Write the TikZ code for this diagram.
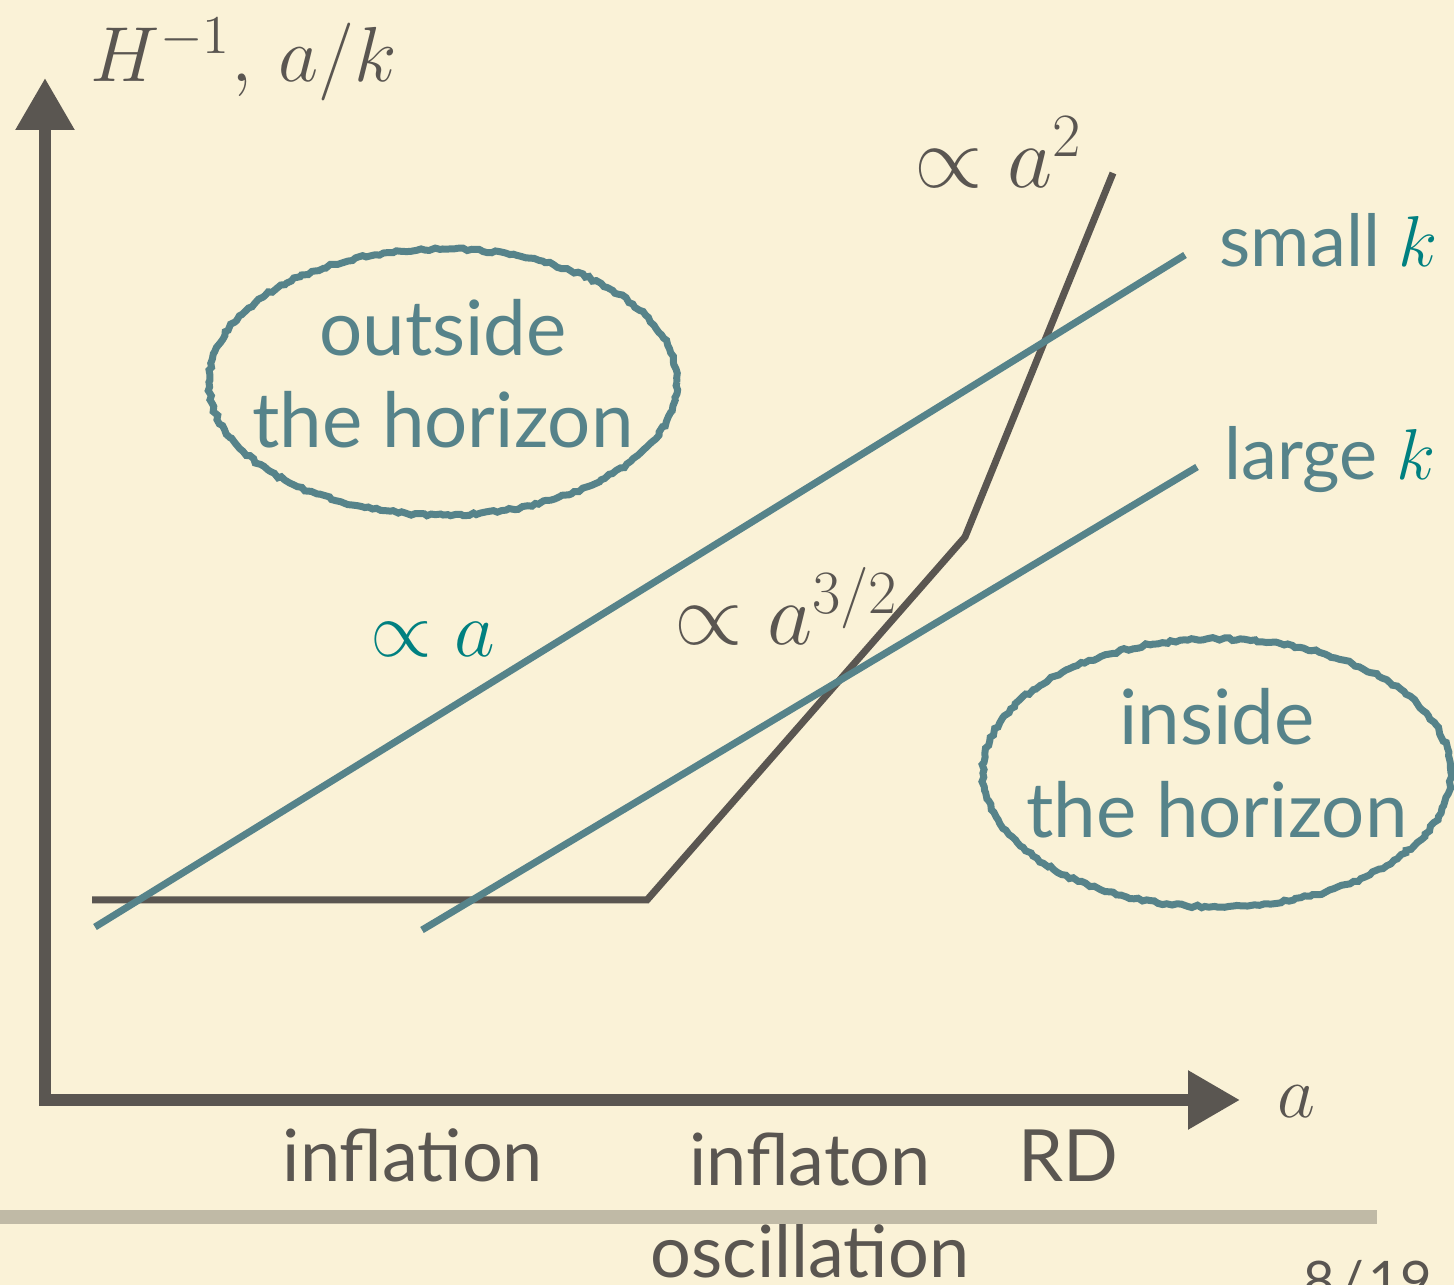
\RequirePackage{fix-cm}
\documentclass[tikz,border=0pt]{standalone}
\usepackage{fontspec}
\setsansfont{Lato}
\usepackage{tikz}
\usetikzlibrary{arrows.meta,positioning,calc,decorations.pathmorphing}
\definecolor{paper}{RGB}{250,242,215}
\definecolor{axisgray}{RGB}{90,86,81}
\definecolor{modeteal}{RGB}{86,131,138}
\definecolor{mathteal}{RGB}{0,128,128}
\definecolor{barbeige}{RGB}{192,186,166}
\newcommand{\labelsize}{\fontsize{20.5}{25}\selectfont}
\newcommand{\zonesize}{\fontsize{21.7}{26}\selectfont}
\newcommand{\mathsize}{\fontsize{25}{30}\selectfont}

\begin{document}
\begin{tikzpicture}[
    >={Triangle[length=5.2mm,width=5.6mm]},
    axis/.style={draw=axisgray, line width=1.2mm, line join=miter},
    hubble/.style={draw=axisgray, line width=0.7mm, line join=miter},
    mode/.style={draw=modeteal, line width=0.7mm},
    rough/.style={draw=modeteal, line width=0.7mm, decorate, decoration={random steps, segment length=1.2pt, amplitude=0.4pt}},
    sflabel/.style={font=\sffamily\labelsize, inner sep=0, anchor=base},
    zone/.style={font=\sffamily\zonesize, text=modeteal, inner sep=0, anchor=base},
    mlabel/.style={font=\mathsize, inner sep=0, anchor=base west}
]
\fill[paper] (0,0) rectangle (14.54,-12.85);
\useasboundingbox (0,0) rectangle (14.54,-12.85);

\draw[axis, <->] (0.45,-0.78) |- (12.40,-11.00);
\node[mlabel, text=axisgray, font=\fontsize{22.2}{27}\selectfont] (ylab) at (0.90,-0.82) {$H^{-1},\,a/k$};
\node[mlabel, text=axisgray, font=\fontsize{21}{26}\selectfont] (xlab) at (12.77,-11.18) {$a$};

\coordinate (h0) at (0.92,-9.00);
\coordinate (hend) at (6.47,-9.00);
\coordinate (hrd) at (9.65,-5.37);
\coordinate (htop) at (11.13,-1.73);
\draw[hubble] (h0) -- (hend) -- (hrd) -- (htop);

\coordinate (s0) at (0.95,-9.27);
\coordinate (s1) at (11.85,-2.55);
\coordinate (l0) at (4.22,-9.30);
\coordinate (l1) at (11.97,-4.67);
\draw[mode] (s0) -- (s1);
\draw[mode] (l0) -- (l1);

\node[mlabel, text=axisgray] (sqlab) at (9.14,-1.88) {$\propto a^2$};
\node[mlabel, text=axisgray] (mdlab) at (6.74,-6.45) {$\propto a^{3/2}$};
\node[mlabel, text=mathteal, font=\fontsize{22.5}{27}\selectfont] (lnlab) at (3.70,-6.57) {$\propto a$};
\node[sflabel, anchor=base west, text=modeteal] (small) at (12.19,-2.67) {small \textcolor{mathteal}{$\mathsize k$}};
\node[sflabel, anchor=base west, text=modeteal] (large) at (12.24,-4.80) {large \textcolor{mathteal}{$\mathsize k$}};

\pgfmathsetseed{7}
\draw[rough] (4.43,-3.82) ellipse [x radius=2.34, y radius=1.33];
\node[zone] (out1) at (4.43,-3.56) {outside};
\node[zone] (out2) at (4.43,-4.48) {the horizon};

\draw[rough] (12.17,-7.73) ellipse [x radius=2.34, y radius=1.34];
\node[zone] (in1) at (12.17,-7.45) {inside};
\node[zone] (in2) at (12.17,-8.38) {the horizon};

\node[sflabel, text=axisgray] (infl) at (4.13,-11.82) {inflation};
\node[sflabel, text=axisgray] (osc1) at (8.10,-11.85) {inflaton};
\node[sflabel, text=axisgray] (osc2) at (8.10,-12.77) {oscillation};
\node[sflabel, text=axisgray] (rd) at (10.68,-11.82) {RD};

\fill[barbeige] (0,-12.10) rectangle (13.77,-12.24);
\node[sflabel, anchor=base west, text=axisgray, font=\sffamily\fontsize{15.5}{19}\selectfont] (page) at (13.03,-13.00) {8\kern0.08em/\kern0.08em19};
\end{tikzpicture}
\end{document}
